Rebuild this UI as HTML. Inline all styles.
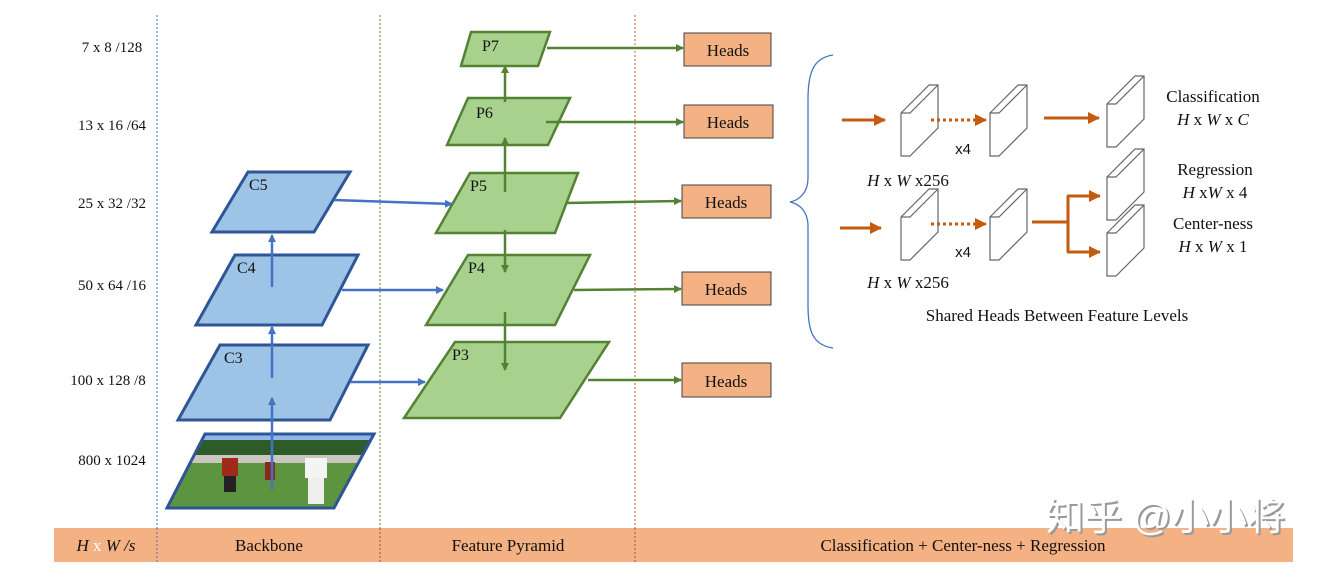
<!DOCTYPE html>
<html><head><meta charset="utf-8"><style>
body{margin:0;background:#fff}
text{font-family:"Liberation Serif",serif;fill:#111}
</style></head><body>
<svg width="1329" height="575" viewBox="0 0 1329 575" xmlns="http://www.w3.org/2000/svg">
<defs>
<marker id="ab" markerWidth="8" markerHeight="8" refX="7" refY="4" orient="auto" markerUnits="userSpaceOnUse"><path d="M0,0 L8,4 L0,8z" fill="#4472c4"/></marker>
<marker id="ag" markerWidth="8" markerHeight="8" refX="7" refY="4" orient="auto" markerUnits="userSpaceOnUse"><path d="M0,0 L8,4 L0,8z" fill="#548235"/></marker>
<marker id="ao" markerWidth="12" markerHeight="12" refX="11" refY="6" orient="auto" markerUnits="userSpaceOnUse"><path d="M0,0 L12,6 L0,12z" fill="#c55a11"/></marker>
<clipPath id="ic"><polygon points="205,434 374,434 334,508 167,508"/></clipPath>
</defs>
<line x1="157" y1="15" x2="157" y2="562" stroke="#4472c4" stroke-dasharray="2,2"/>
<line x1="380" y1="15" x2="380" y2="562" stroke="#548235" stroke-dasharray="2,2"/>
<line x1="635" y1="15" x2="635" y2="562" stroke="#c55a11" stroke-dasharray="2,2"/>
<rect x="54" y="528" width="1239" height="34" fill="#f4b183"/>
<line x1="157" y1="528" x2="157" y2="562" stroke="#4472c4" stroke-dasharray="2,2"/>
<line x1="380" y1="528" x2="380" y2="562" stroke="#806040" stroke-dasharray="2,2"/>
<line x1="635" y1="528" x2="635" y2="562" stroke="#806040" stroke-dasharray="2,2"/>
<g font-size="17" text-anchor="middle">
<text x="106" y="551" font-style="italic">H <tspan style="fill:#fff" font-style="normal">x</tspan> W /s</text>
<text x="269" y="551">Backbone</text>
<text x="508" y="551">Feature Pyramid</text>
<text x="963" y="551">Classification + Center-ness + Regression</text>
</g>
<g font-size="15" text-anchor="middle">
<text x="112" y="52">7 x 8 /128</text>
<text x="112" y="130">13 x 16 /64</text>
<text x="112" y="208">25 x 32 /32</text>
<text x="112" y="290">50 x 64 /16</text>
<text x="108" y="385">100 x 128 /8</text>
<text x="112" y="465">800 x 1024</text>
</g>
<g clip-path="url(#ic)">
<rect x="160" y="430" width="220" height="80" fill="#4f8a3a"/>
<rect x="160" y="430" width="220" height="12" fill="#8fb8e8"/>
<rect x="160" y="440" width="220" height="16" fill="#2f5a2a"/>
<rect x="160" y="455" width="220" height="8" fill="#c8c8c0"/>
<rect x="160" y="463" width="220" height="45" fill="#5d9440"/>
<rect x="222" y="458" width="16" height="18" fill="#a02a1a"/>
<rect x="224" y="476" width="12" height="16" fill="#222"/>
<rect x="305" y="458" width="22" height="20" fill="#f4f4f4"/>
<rect x="308" y="478" width="16" height="26" fill="#eee"/>
<rect x="265" y="462" width="10" height="18" fill="#8a2a1a"/>
</g>
<polygon points="205,434 374,434 334,508 167,508" fill="none" stroke="#2f5597" stroke-width="3"/>
<g fill="#9dc3e6" stroke="#2f5597" stroke-width="3">
<polygon points="248,172 350,172 314,232 212,232"/>
<polygon points="235,255 358,255 322,325 196,325"/>
<polygon points="220,345 368,345 330,420 178,420"/>
</g>
<g fill="#a9d18e" stroke="#548235" stroke-width="2.5">
<polygon points="471,32 550,32 538,66 461,66"/>
<polygon points="468,98 570,98 548,145 447,145"/>
<polygon points="470,173 578,173 555,233 436,233"/>
<polygon points="468,255 590,255 555,325 426,325"/>
<polygon points="455,342 609,342 560,418 404,418"/>
</g>
<g font-size="16">
<text x="249" y="190">C5</text><text x="237" y="273">C4</text><text x="224" y="363">C3</text>
<text x="482" y="51">P7</text><text x="476" y="118">P6</text><text x="470" y="191">P5</text><text x="468" y="273">P4</text><text x="452" y="360">P3</text>
</g>
<g stroke="#4472c4" stroke-width="2.5" fill="none" marker-end="url(#ab)">
<line x1="272" y1="490" x2="272" y2="398"/>
<line x1="272" y1="378" x2="272" y2="327"/>
<line x1="272" y1="287" x2="272" y2="235"/>
<line x1="334" y1="200" x2="452" y2="204"/>
<line x1="342" y1="290" x2="443" y2="290"/>
<line x1="350" y1="382" x2="425" y2="382"/>
</g>
<g stroke="#548235" stroke-width="2.5" fill="none" marker-end="url(#ag)">
<line x1="505" y1="312" x2="505" y2="370"/>
<line x1="505" y1="230" x2="505" y2="272"/>
<line x1="505" y1="192" x2="505" y2="138"/>
<line x1="505" y1="102" x2="505" y2="66"/>
<line x1="547" y1="48" x2="683" y2="48"/>
<line x1="546" y1="122" x2="683" y2="122"/>
<line x1="566" y1="203" x2="681" y2="201"/>
<line x1="574" y1="290" x2="681" y2="289"/>
<line x1="588" y1="380" x2="681" y2="380"/>
</g>
<g fill="#f4b183" stroke="#404040" stroke-width="1">
<rect x="684" y="33" width="87" height="33"/>
<rect x="684" y="105" width="89" height="33"/>
<rect x="682" y="185" width="89" height="33"/>
<rect x="682" y="272" width="89" height="33"/>
<rect x="682" y="363" width="89" height="34"/>
</g>
<g font-size="17" text-anchor="middle">
<text x="728" y="56">Heads</text><text x="728" y="128">Heads</text><text x="726" y="208">Heads</text><text x="726" y="295">Heads</text><text x="726" y="387">Heads</text>
</g>
<path d="M833,55 C812,58 808,75 808,100 L808,178 C808,192 800,200 790,202 C800,204 808,212 808,226 L808,305 C808,330 812,345 833,348" fill="none" stroke="#4472c4" stroke-width="1.3"/>
<g fill="#fff" stroke="#666" stroke-width="1.2">
<g transform="translate(901,85)"><polygon points="0,28 28,0 37,0 37,43 9,71 0,71"/><polyline points="0,28 9,28 37,0 M9,28 9,71" fill="none"/></g>
<g transform="translate(990,85)"><polygon points="0,28 28,0 37,0 37,43 9,71 0,71"/><polyline points="0,28 9,28 37,0 M9,28 9,71" fill="none"/></g>
<g transform="translate(1107,76)"><polygon points="0,28 28,0 37,0 37,43 9,71 0,71"/><polyline points="0,28 9,28 37,0 M9,28 9,71" fill="none"/></g>
<g transform="translate(901,189)"><polygon points="0,28 28,0 37,0 37,43 9,71 0,71"/><polyline points="0,28 9,28 37,0 M9,28 9,71" fill="none"/></g>
<g transform="translate(990,189)"><polygon points="0,28 28,0 37,0 37,43 9,71 0,71"/><polyline points="0,28 9,28 37,0 M9,28 9,71" fill="none"/></g>
<g transform="translate(1107,149)"><polygon points="0,28 28,0 37,0 37,43 9,71 0,71"/><polyline points="0,28 9,28 37,0 M9,28 9,71" fill="none"/></g>
<g transform="translate(1107,205)"><polygon points="0,28 28,0 37,0 37,43 9,71 0,71"/><polyline points="0,28 9,28 37,0 M9,28 9,71" fill="none"/></g>
</g>
<g stroke="#c55a11" stroke-width="3" fill="none">
<line x1="842" y1="120" x2="885" y2="120" marker-end="url(#ao)"/>
<line x1="931" y1="120" x2="986" y2="120" stroke-dasharray="3,3" marker-end="url(#ao)"/>
<line x1="1044" y1="118" x2="1099" y2="118" marker-end="url(#ao)"/>
<line x1="840" y1="228" x2="881" y2="228" marker-end="url(#ao)"/>
<line x1="931" y1="224" x2="986" y2="224" stroke-dasharray="3,3" marker-end="url(#ao)"/>
<line x1="1032" y1="222" x2="1068" y2="222"/>
<line x1="1068" y1="196" x2="1068" y2="252"/>
<line x1="1067" y1="196" x2="1100" y2="196" marker-end="url(#ao)"/>
<line x1="1067" y1="252" x2="1100" y2="252" marker-end="url(#ao)"/>
</g>
<g font-size="15" text-anchor="middle">
<text x="963" y="154" style="font-family:'Liberation Sans',sans-serif">x4</text>
<text x="963" y="257" style="font-family:'Liberation Sans',sans-serif">x4</text>
</g>
<g font-size="17" text-anchor="middle">
<text x="908" y="186"><tspan font-style="italic">H</tspan> x <tspan font-style="italic">W</tspan> x256</text>
<text x="908" y="288"><tspan font-style="italic">H</tspan> x <tspan font-style="italic">W</tspan> x256</text>
<text x="1213" y="102">Classification</text>
<text x="1213" y="125"><tspan font-style="italic">H</tspan> x <tspan font-style="italic">W</tspan> x <tspan font-style="italic">C</tspan></text>
<text x="1215" y="175">Regression</text>
<text x="1215" y="198"><tspan font-style="italic">H</tspan> x<tspan font-style="italic">W</tspan> x 4</text>
<text x="1213" y="229">Center-ness</text>
<text x="1213" y="252"><tspan font-style="italic">H</tspan> x <tspan font-style="italic">W</tspan> x 1</text>
<text x="1057" y="321">Shared Heads Between Feature Levels</text>
</g>
<text x="1048" y="532" font-size="38" style="fill:#9a9a9a;font-family:'Liberation Sans','Noto Sans CJK SC',sans-serif">知乎 @小小将</text>
<text x="1046" y="530" font-size="38" style="fill:#ffffff;font-family:'Liberation Sans','Noto Sans CJK SC',sans-serif">知乎 @小小将</text>
</svg>
</body></html>
